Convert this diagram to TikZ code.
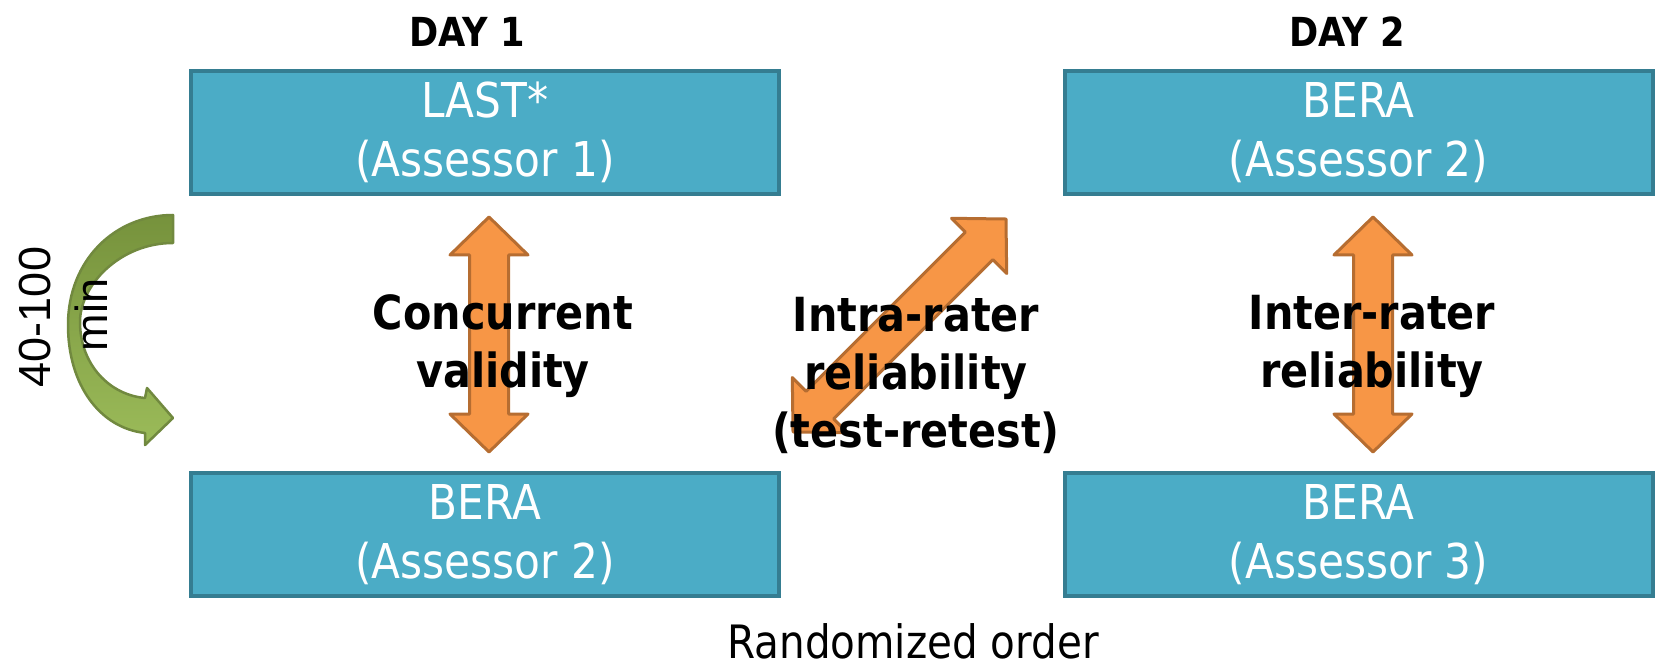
\documentclass[tikz,border=0pt]{standalone}
\usepackage{fontspec}
\setmainfont[FakeStretch=0.88]{DejaVu Sans}
\newfontfamily\armfont{Liberation Sans}
\definecolor{boxfill}{HTML}{4BACC6}
\definecolor{boxline}{HTML}{357D91}
\definecolor{orfill}{HTML}{F79646}
\definecolor{orline}{HTML}{B66D31}
\definecolor{grtop}{HTML}{76923C}
\definecolor{grbot}{HTML}{9BBB59}
\definecolor{grline}{HTML}{71893F}
\tikzset{
  x=1pt, y=-1pt,
  stagebox/.style={draw=boxline, fill=boxfill, line width=4pt,
    minimum width=588pt, minimum height=123pt, inner sep=0pt,
    text=white, align=center, font=\fontsize{48}{59}\selectfont},
  heading/.style={font=\fontsize{40}{48}\selectfont\bfseries, inner sep=0pt},
  relation/.style={font=\fontsize{47}{58}\selectfont\bfseries, align=center, inner sep=0pt},
  blockarrow/.style={draw=orline, fill=orfill, line width=3pt, line join=round},
  pics/dblarrow/.style={code={
    \path[blockarrow] (0,-#1) -- (39,{-#1+38}) -- (19.5,{-#1+38}) -- (19.5,{#1-38})
      -- (39,{#1-38}) -- (0,#1) -- (-39,{#1-38}) -- (-19.5,{#1-38})
      -- (-19.5,{-#1+38}) -- (-39,{-#1+38}) -- cycle;
  }},
}
\begin{document}
\begin{tikzpicture}
\useasboundingbox (0,0) rectangle (1655,668);

% session headings
\node[heading] (day1) at (467,32) {DAY 1};
\node[heading] (day2) at (1347,32) {DAY 2};

% the four assessment sessions
\node[stagebox] (last)  at (485,132.5)  {LAST*\\(Assessor 1)};
\node[stagebox] (bera1) at (485,534.5)  {BERA\\(Assessor 2)};
\node[stagebox] (bera2) at (1358.5,132.5) {BERA\\(Assessor 2)};
\node[stagebox] (bera3) at (1358.5,534.5) {BERA\\(Assessor 3)};

% double block arrows between sessions
\pic at (489,334.5) {dblarrow=117.5};
\pic at (1373,334.5) {dblarrow=117.5};
\pic[rotate=-45] at (899.5,325.5) {dblarrow=150.6};

% relation labels
\node[relation] (conc)  at (503,346) {Concurrent\\validity};
\node[relation] (intra) at (916,375) {Intra-rater\\reliability\\(test-retest)};
\node[relation] (inter) at (1372,346) {Inter-rater\\reliability};

% curved time arrow
\path[draw=grline, line width=2.5pt, line join=round, top color=grtop, bottom color=grbot]
  (173,215) -- (173,243)
  .. controls (120,243) and (80,285) .. (80,322)
  .. controls (80,365) and (110,395) .. (145,398)
  -- (147,388) -- (173,418) -- (145,445) -- (145,433)
  .. controls (100,428) and (68,385) .. (68,325)
  .. controls (68,260) and (115,215) .. (173,215) -- cycle;
\node[font=\armfont\fontsize{45}{54}\selectfont, rotate=90, anchor=base, inner sep=0pt] (dur) at (50,317) {40-100};
\node[font=\armfont\fontsize{45}{54}\selectfont, rotate=90, anchor=base, inner sep=0pt] (unit) at (107,315) {min};

% footnote
\node[font=\fontsize{46}{54}\selectfont, inner sep=0pt, text depth=0pt, anchor=base] (order) at (913,658) {Randomized order};
\end{tikzpicture}
\end{document}
